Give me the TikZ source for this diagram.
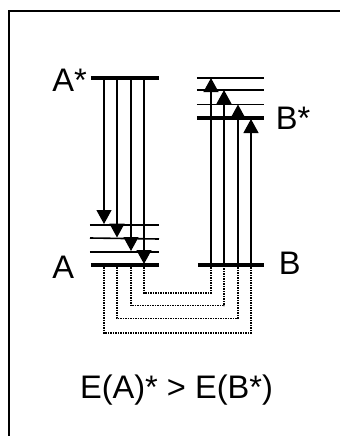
\documentclass[tikz,border=0pt]{standalone}
\usepackage{fontspec}
\setmainfont{Liberation Sans}
\usetikzlibrary{arrows.meta, positioning}
\tikzset{
    % Levels
    level/.style      = {line width=0.8pt},
    ground/.style     = {line width=1.6pt},
    % Transitions
    trans/.style      = {line width=0.6pt},
    down/.style       = {trans, -{Triangle[length=7pt, width=7.5pt]}},
    up/.style         = {trans, -{Triangle[length=7pt, width=7.5pt]}},
    relax/.style      = {line width=0.9pt, black, dash pattern=on 0.75pt off 0.5pt},
    % Text
    label/.style      = {inner sep=0pt, font=\fontsize{16.3}{19}\selectfont},
    frame/.style      = {line width=1pt}
}
\begin{document}
\begin{tikzpicture}[x=0.5pt, y=-0.5pt]
    \useasboundingbox (0,0) rectangle (340,436);
    \draw [frame] (9.5,436) -- (9.5,10.5) -- (340,10.5);

    % Molecule A levels
    \coordinate (Aup) at (91,78);
    \coordinate (Alow) at (91,265);
    \draw [ground] (Aup) -- ++(68,0);
    \draw [level] (90,225) -- (159,225);
    \draw [level] (90,238) -- (159,239);
    \draw [level] (90,252) -- (159,252);
    \draw [ground] (Alow) -- ++(68,0);

    % Molecule B levels
    \draw [level] (197,78) -- (264,78);
    \draw [level] (197,90) -- (264,90);
    \draw [level] (197,104.5) -- (264,104.5);
    \coordinate (Bup) at (197,118);
    \coordinate (Blow) at (198,265);
    \draw [ground] (Bup) -- (264,118);
    \draw [ground] (Blow) -- (264,265);

    % Emission in A
    \coordinate (e1) at (104,78);   \coordinate (f1) at (104,224);
    \coordinate (e2) at (117,78);   \coordinate (f2) at (117,237.5);
    \coordinate (e3) at (131,78);   \coordinate (f3) at (131,251);
    \coordinate (e4) at (144,78);   \coordinate (f4) at (144,264);
    \draw [down] (e1) -- (f1);
    \draw [down] (e2) -- (f2);
    \draw [down] (e3) -- (f3);
    \draw [down] (e4) -- (f4);

    % Absorption in B
    \coordinate (g1) at (211,265);  \coordinate (h1) at (211,78);
    \coordinate (g2) at (224,265);  \coordinate (h2) at (224,90);
    \coordinate (g3) at (238,265);  \coordinate (h3) at (238,104.5);
    \coordinate (g4) at (251,265);  \coordinate (h4) at (251,119);
    \draw [up] (g1) -- (h1);
    \draw [up] (g2) -- (h2);
    \draw [up] (g3) -- (h3);
    \draw [up] (g4) -- (h4);

    % Energy transfer paths
    \draw [relax] (144,267) -- (144,293) -- (211,293) -- (g1);
    \draw [relax] (131,267) -- (131,305.5) -- (224,305.5) -- (g2);
    \draw [relax] (117,267) -- (117,318.5) -- (238,318.5) -- (g3);
    \draw [relax] (104,267) -- (104,333) -- (251,333) -- (g4);

    % Labels
    \node (lAstar) [label, anchor=base west] at (52,91) {A*};
    \node (lA) [label, anchor=base west] at (52,278) {A};
    \node (lBstar) [label, anchor=base west] at (275.5,129) {B*};
    \node (lB) [label, anchor=base west] at (278.5,274) {B};
    \node (cond) [label, anchor=base] at (176.5,398) {E(A)* > E(B*)};
\end{tikzpicture}
\end{document}
